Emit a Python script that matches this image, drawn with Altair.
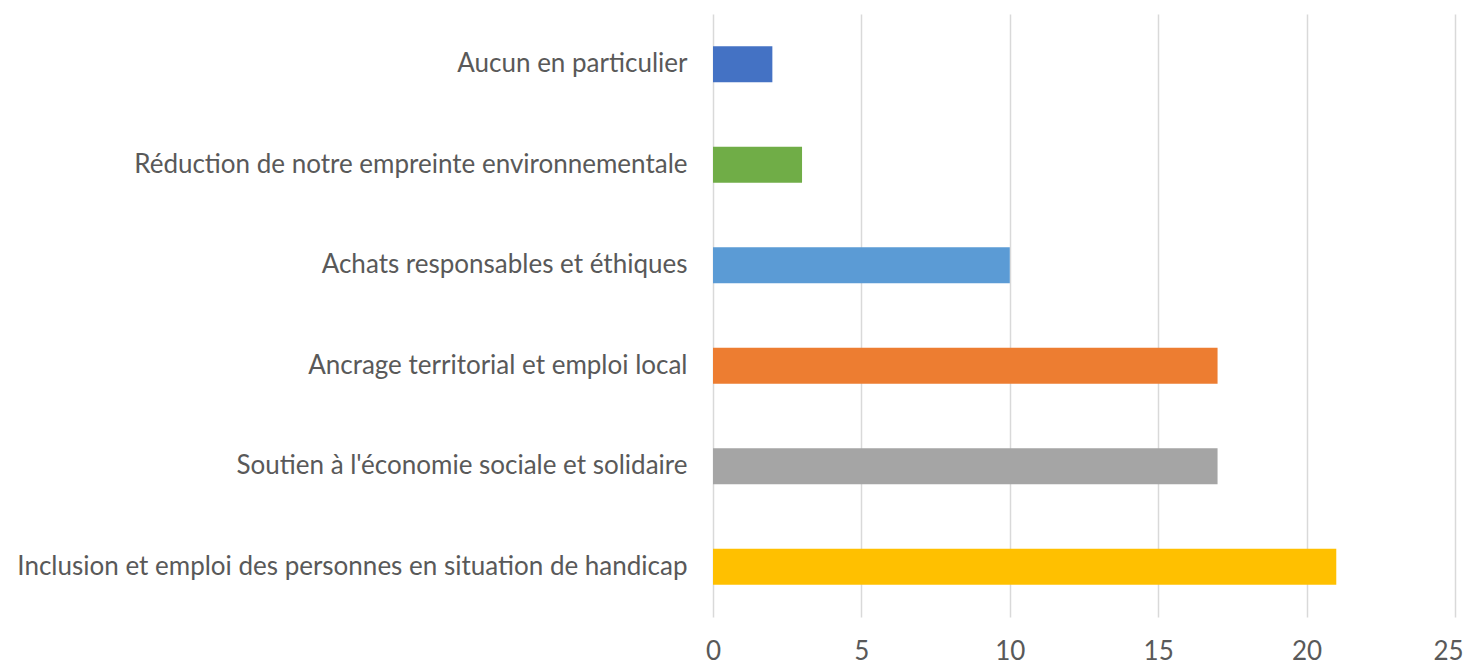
import altair as alt
import pandas as pd

categories = [
    "Aucun en particulier",
    "Réduction de notre empreinte environnementale",
    "Achats responsables et éthiques",
    "Ancrage territorial et emploi local",
    "Soutien à l'économie sociale et solidaire",
    "Inclusion et emploi des personnes en situation de handicap",
]
values = [2, 3, 10, 17, 17, 21]
colors = ["#4472C4", "#70AD47", "#5B9BD5", "#ED7D31", "#A5A5A5", "#FFC000"]

df = pd.DataFrame({"cat": categories, "val": values, "color": colors})

FONT = "Lato"

chart = alt.Chart(df).mark_bar().encode(
    y=alt.Y("cat:N", sort=categories, title=None,
            scale=alt.Scale(paddingInner=0.642, paddingOuter=0.321),
            axis=alt.Axis(domain=False, ticks=False, labelFontSize=26,
                          labelColor="#595959", labelFont=FONT, labelPadding=26,
                          labelLimit=800)),
    x=alt.X("val:Q", title=None,
            scale=alt.Scale(domain=[0, 25], nice=False),
            axis=alt.Axis(values=[0, 5, 10, 15, 20, 25], domain=False, ticks=False,
                          grid=True, gridColor="#D9D9D9", gridWidth=1.5,
                          labelFontSize=26, labelColor="#595959", labelFont=FONT,
                          labelPadding=21, labelFlush=False,
                          labelOffset={"condition": {"test": "datum.value == 25", "value": -7},
                                       "value": 0})),
    color=alt.Color("color:N", scale=None, legend=None),
).properties(
    width=742, height=603, autosize="none",
    padding={"left": 705, "top": 6, "right": 8, "bottom": 47},
).configure_view(stroke=None)

chart.save("out.html", embed_options={"renderer": "svg", "actions": False})
